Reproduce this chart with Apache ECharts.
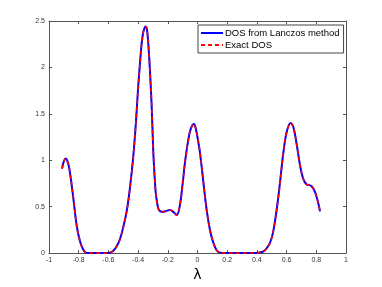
<!DOCTYPE html>
<html><head><meta charset="utf-8">
<script src="https://cdn.jsdelivr.net/npm/echarts@6/dist/echarts.min.js"></script>
<style>html,body{margin:0;padding:0;background:#fff}#c{width:382px;height:287px}</style>
</head><body><div id="c"></div>
<script>
const lambdaVals = [-0.912,-0.900,-0.886,-0.872,-0.859,-0.836,-0.814,-0.791,-0.769,-0.750,-0.72,-0.65,-0.60,-0.585,-0.567,-0.545,-0.522,-0.500,-0.477,-0.455,-0.432,-0.415,-0.399,-0.387,-0.376,-0.365,-0.355,-0.347,-0.338,-0.325,-0.309,-0.298,-0.286,-0.279,-0.264,-0.250,-0.230,-0.210,-0.185,-0.160,-0.140,-0.118,-0.100,-0.084,-0.062,-0.045,-0.024,-0.010,0.005,0.017,0.040,0.062,0.085,0.107,0.129,0.150,0.20,0.30,0.40,0.44,0.46,0.488,0.511,0.544,0.578,0.600,0.627,0.645,0.668,0.690,0.712,0.735,0.750,0.769,0.791,0.813,0.825];
const lanczosDOS = [0.91,0.99,1.02,0.97,0.87,0.59,0.30,0.125,0.036,0.003,0,0,0.002,0.008,0.025,0.07,0.15,0.28,0.45,0.70,1.05,1.40,1.80,2.05,2.26,2.38,2.43,2.44,2.38,2.10,1.60,1.10,0.75,0.62,0.48,0.45,0.445,0.455,0.463,0.44,0.41,0.52,0.75,0.98,1.22,1.34,1.39,1.33,1.20,1.08,0.76,0.46,0.24,0.11,0.03,0.005,0,0,0.002,0.015,0.04,0.11,0.24,0.60,1.08,1.30,1.40,1.36,1.17,0.95,0.80,0.74,0.735,0.72,0.66,0.54,0.45];
const exactDOS = lanczosDOS.slice();
const xTicks = [-1,-0.8,-0.6,-0.4,-0.2,0,0.2,0.4,0.6,0.8,1];
const yTicks = [0,0.5,1,1.5,2,2.5];
const seriesNames = ['DOS from Lanczos method','Exact DOS'];
const xLabel = 'λ';

const pair = (ys) => lambdaVals.map((x,i)=>[x,ys[i]]);
const fmtX = v => (Math.abs(v)<1e-9?'0':String(Math.round(v*10)/10));
const axisCol = '#555';
const chart = echarts.init(document.getElementById('c'));
const common = {type:'value', axisLine:{show:true,onZero:false,lineStyle:{color:axisCol,width:1}},
  axisTick:{show:true,inside:true,length:3,lineStyle:{color:axisCol}}, splitLine:{show:false}};
chart.setOption({
  animation:false,
  backgroundColor:'#fff',
  grid:{left:49,right:36,top:21,bottom:32},
  xAxis:[
    Object.assign({},common,{min:-1,max:1,interval:0.2,position:'bottom',
      name:xLabel,nameLocation:'middle',nameGap:13,nameTextStyle:{fontSize:14,color:'#000',fontFamily:'DejaVu Sans'},
      axisLabel:{fontSize:7,color:'#333',margin:3,fontFamily:'Liberation Sans',formatter:fmtX}}),
    Object.assign({},common,{min:-1,max:1,interval:0.2,position:'top',axisLabel:{show:false}})
  ],
  yAxis:[
    Object.assign({},common,{min:0,max:2.5,interval:0.5,position:'left',
      axisLabel:{fontSize:7,color:'#333',margin:4,fontFamily:'Liberation Sans',formatter:v=>String(v)}}),
    Object.assign({},common,{min:0,max:2.5,interval:0.5,position:'right',axisLabel:{show:false}})
  ],
  legend:{orient:'vertical',left:198,top:25,width:145,itemGap:2,itemWidth:22,itemHeight:8,
    padding:[3,4,3,2],borderColor:'#444',borderWidth:1,backgroundColor:'#fff',
    itemStyle:{opacity:0},
    textStyle:{fontSize:9.5,color:'#000',fontFamily:'Liberation Sans',padding:[0,0,0,-3]},
    data:seriesNames
  },
  series:[
    {name:seriesNames[0],type:'line',data:pair(lanczosDOS),smooth:0.35,showSymbol:false,symbol:'none',
      lineStyle:{color:'#0000ff',width:2},itemStyle:{color:'#0000ff'},z:2},
    {name:seriesNames[1],type:'line',data:pair(exactDOS),smooth:0.35,showSymbol:false,symbol:'none',
      lineStyle:{color:'#ff0000',width:1.6,type:[4,3]},itemStyle:{color:'#ff0000'},z:3}
  ]
});
</script></body></html>
